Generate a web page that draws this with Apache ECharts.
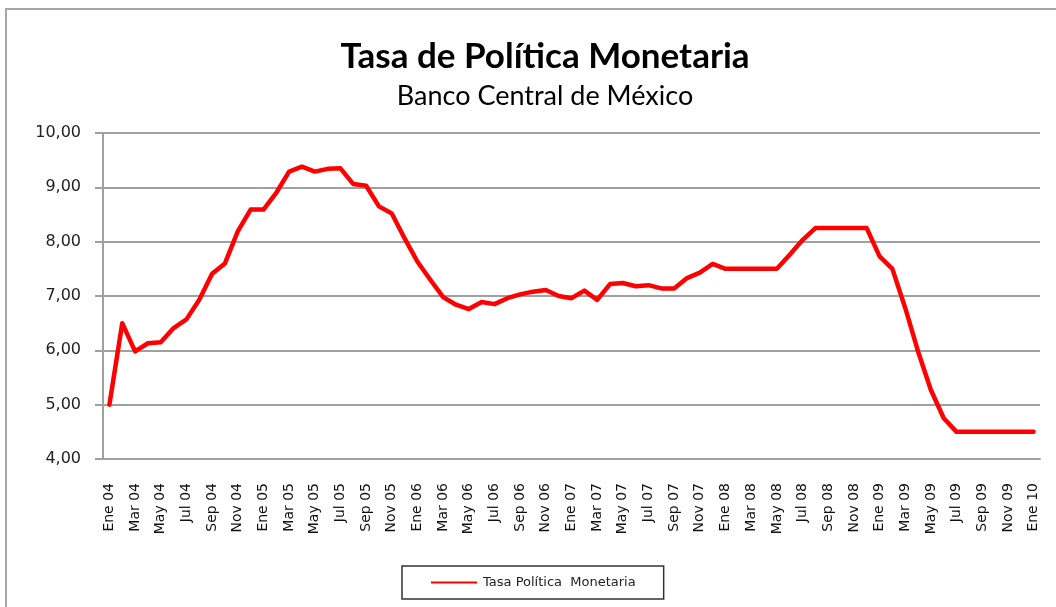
<!DOCTYPE html>
<html>
<head>
<meta charset="utf-8">
<title>Tasa de Política Monetaria</title>
<script src="https://cdn.jsdelivr.net/npm/echarts@6/dist/echarts.min.js"></script>
<style>
    html, body { margin: 0; padding: 0; background: #fff; }
    #main { width: 1056px; height: 607px; }
</style>
</head>
<body>
<div id="main"></div>
<script>
// meses y años del eje x
var meses = ['Ene', 'Feb', 'Mar', 'Abr', 'May', 'Jun', 'Jul', 'Ago', 'Sep', 'Oct', 'Nov', 'Dic'];
var anios = ['04', '05', '06', '07', '08', '09', '10'];

// valores mensuales
var tasa2004 = [5.00, 6.50, 5.98, 6.13, 6.15, 6.41, 6.57, 6.93, 7.41, 7.60, 8.19, 8.59];
var tasa2005 = [8.59, 8.90, 9.29, 9.38, 9.29, 9.34, 9.35, 9.06, 9.03, 8.65, 8.52, 8.06];
var tasa2006 = [7.63, 7.30, 6.98, 6.84, 6.76, 6.89, 6.85, 6.96, 7.03, 7.08, 7.11, 7.00];
var tasa2007 = [6.96, 7.10, 6.93, 7.22, 7.24, 7.18, 7.20, 7.14, 7.14, 7.33, 7.43, 7.59];
var tasa2008 = [7.50, 7.50, 7.50, 7.50, 7.50, 7.76, 8.03, 8.25, 8.25, 8.25, 8.25, 8.25];
var tasa2009 = [7.73, 7.50, 6.78, 5.98, 5.27, 4.75, 4.50, 4.50, 4.50, 4.50, 4.50, 4.50];
var tasa2010 = [4.50];

var yTicks = [4, 5, 6, 7, 8, 9, 10];

var categorias = [];
for (var a = 0; a < anios.length; a++) {
    var n = (a == anios.length - 1) ? 1 : 12;
    for (var m = 0; m < n; m++) {
        categorias.push(meses[m] + ' ' + anios[a]);
    }
}

var datos = [].concat(tasa2004, tasa2005, tasa2006, tasa2007, tasa2008, tasa2009, tasa2010);

var chart = echarts.init(document.getElementById('main'));

var option = {
    backgroundColor: '#fff',
    animation: false,
    title: [{
        text: 'Tasa de Política Monetaria',
        left: 540,
        top: 34,
        textAlign: 'center',
        textStyle: {
            fontFamily: 'Lato',
            fontWeight: 'bold',
            fontSize: 35,
            color: '#000'
        }
    }, {
        text: 'Banco Central de México',
        left: 540,
        top: 78,
        textAlign: 'center',
        textStyle: {
            fontFamily: 'Lato',
            fontWeight: 'normal',
            fontSize: 27,
            color: '#000'
        }
    }],
    // borde exterior del área del gráfico
    graphic: [{
        type: 'rect',
        shape: { x: 6, y: 9, width: 1200, height: 800 },
        style: { fill: 'none', stroke: '#a6a6a6', lineWidth: 2 },
        silent: true
    }],
    legend: {
        data: ['Tasa Política  Monetaria'],
        left: 402,
        top: 566,
        padding: [10, 28, 10, 29],
        itemWidth: 46,
        itemHeight: 12,
        itemGap: 4,
        borderColor: '#333',
        borderWidth: 1.5,
        icon: 'path://M0,5 L46,5 L46,7 L0,7 Z',
        textStyle: {
            fontFamily: 'DejaVu Sans',
            fontSize: 13,
            color: '#222',
            padding: [0, 0, 0, 1]
        }
    },
    grid: {
        left: 103,
        right: 16,
        top: 133,
        bottom: 148,
        containLabel: false
    },
    xAxis: {
        type: 'category',
        data: categorias,
        boundaryGap: true,
        axisLine: { lineStyle: { color: '#a0a0a0', width: 2 } },
        axisTick: { show: false },
        axisLabel: {
            interval: 1,
            rotate: 90,
            margin: 24,
            fontFamily: 'DejaVu Sans',
            fontSize: 14,
            color: '#111'
        }
    },
    yAxis: {
        type: 'value',
        min: yTicks[0],
        max: yTicks[yTicks.length - 1],
        interval: 1,
        axisLine: { show: true, lineStyle: { color: '#a0a0a0', width: 2 } },
        axisTick: { show: true, inside: false, length: 8, lineStyle: { color: '#a0a0a0', width: 2 } },
        splitLine: { show: true, lineStyle: { color: '#a0a0a0', width: 2 } },
        axisLabel: {
            margin: 22,
            fontFamily: 'DejaVu Sans',
            fontSize: 16,
            color: '#222',
            formatter: function (v) {
                return v.toFixed(2).replace('.', ',');
            }
        }
    },
    series: [{
        name: 'Tasa Política  Monetaria',
        type: 'line',
        data: datos,
        symbol: 'none',
        smooth: false,
        itemStyle: { color: '#ff0000' },
        lineStyle: { color: '#ff0000', width: 4.5, cap: 'round', join: 'round' }
    }]
};

chart.setOption(option);
</script>
</body>
</html>
